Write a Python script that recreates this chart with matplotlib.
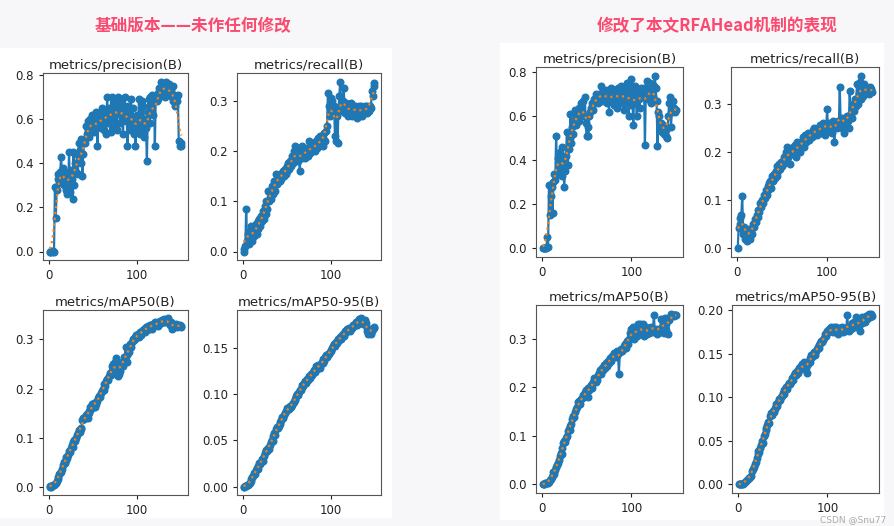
import matplotlib
matplotlib.use("Agg")
import matplotlib.pyplot as plt
from matplotlib.ticker import MaxNLocator
import numpy as np

# epochs
epochs = np.arange(1, 151)

# base version (left block)
base_precision = [
    0.0, 0.0, 0.001, 0.0, 0.003, 0.0, 0.29, 0.15, 0.28, 0.33,
    0.35, 0.31, 0.36, 0.43, 0.34, 0.38, 0.30, 0.36, 0.28, 0.33,
    0.26, 0.29, 0.45, 0.27, 0.37, 0.33, 0.24, 0.45, 0.30, 0.40,
    0.36, 0.44, 0.35, 0.49, 0.46, 0.40, 0.51, 0.34, 0.44, 0.50,
    0.49, 0.57, 0.53, 0.59, 0.52, 0.56, 0.60, 0.55, 0.62, 0.57,
    0.54, 0.61, 0.58, 0.63, 0.48, 0.60, 0.57, 0.62, 0.56, 0.65,
    0.61, 0.55, 0.64, 0.60, 0.53, 0.70, 0.58, 0.65, 0.62, 0.54,
    0.70, 0.60, 0.66, 0.57, 0.62, 0.68, 0.55, 0.70, 0.63, 0.67,
    0.58, 0.69, 0.60, 0.53, 0.66, 0.70, 0.59, 0.64, 0.48, 0.66,
    0.62, 0.55, 0.69, 0.58, 0.65, 0.53, 0.60, 0.48, 0.57, 0.62,
    0.55, 0.69, 0.53, 0.58, 0.68, 0.55, 0.66, 0.52, 0.60, 0.56,
    0.41, 0.63, 0.69, 0.58, 0.70, 0.65, 0.71, 0.62, 0.69, 0.48,
    0.70, 0.68, 0.72, 0.69, 0.74, 0.71, 0.77, 0.73, 0.76, 0.72,
    0.75, 0.70, 0.77, 0.74, 0.72, 0.76, 0.71, 0.73, 0.70, 0.75,
    0.68, 0.71, 0.66, 0.70, 0.68, 0.71, 0.50, 0.48, 0.49, 0.48,
]
base_recall = [
    0.0, 0.004, 0.01, 0.085, 0.02, 0.035, 0.015, 0.04, 0.025, 0.05,
    0.02, 0.045, 0.03, 0.04, 0.055, 0.035, 0.06, 0.045, 0.065, 0.05,
    0.07, 0.06, 0.08, 0.065, 0.09, 0.075, 0.1, 0.085, 0.12, 0.1,
    0.12, 0.105, 0.13, 0.115, 0.125, 0.14, 0.12, 0.155, 0.135, 0.145,
    0.15, 0.14, 0.155, 0.145, 0.15, 0.16, 0.15, 0.165, 0.155, 0.17,
    0.16, 0.175, 0.165, 0.18, 0.17, 0.19, 0.175, 0.2, 0.18, 0.21,
    0.19, 0.205, 0.18, 0.2, 0.16, 0.195, 0.185, 0.21, 0.19, 0.2,
    0.185, 0.195, 0.205, 0.19, 0.22, 0.2, 0.195, 0.21, 0.2, 0.215,
    0.205, 0.2, 0.22, 0.21, 0.205, 0.225, 0.21, 0.23, 0.215, 0.22,
    0.225, 0.21, 0.235, 0.22, 0.24, 0.25, 0.315, 0.29, 0.27, 0.305,
    0.28, 0.3, 0.275, 0.29, 0.23, 0.22, 0.27, 0.215, 0.28, 0.31,
    0.338, 0.29, 0.28, 0.3, 0.325, 0.285, 0.275, 0.295, 0.28, 0.27,
    0.29, 0.28, 0.295, 0.27, 0.285, 0.29, 0.275, 0.29, 0.28, 0.265,
    0.285, 0.29, 0.275, 0.28, 0.29, 0.27, 0.285, 0.275, 0.29, 0.28,
    0.275, 0.29, 0.285, 0.28, 0.29, 0.285, 0.32, 0.31, 0.33, 0.335,
]
base_map50 = [
    0.0, 0.001, 0.0, 0.002, 0.003, 0.004, 0.006, 0.008, 0.012, 0.015,
    0.02, 0.025, 0.028, 0.03, 0.036, 0.045, 0.05, 0.048, 0.055, 0.06,
    0.058, 0.065, 0.072, 0.07, 0.078, 0.085, 0.08, 0.09, 0.095, 0.092,
    0.1, 0.105, 0.11, 0.115, 0.112, 0.12, 0.118, 0.135, 0.14, 0.138,
    0.142, 0.145, 0.148, 0.14, 0.15, 0.155, 0.162, 0.158, 0.168, 0.165,
    0.17, 0.162, 0.172, 0.168, 0.175, 0.18, 0.185, 0.182, 0.19, 0.195,
    0.2, 0.198, 0.21, 0.205, 0.215, 0.22, 0.218, 0.225, 0.232, 0.228,
    0.245, 0.235, 0.25, 0.24, 0.255, 0.262, 0.238, 0.225, 0.245, 0.23,
    0.235, 0.25, 0.255, 0.245, 0.265, 0.26, 0.285, 0.255, 0.268, 0.28,
    0.275, 0.29, 0.285, 0.295, 0.3, 0.298, 0.305, 0.302, 0.31, 0.308,
    0.312, 0.305, 0.315, 0.31, 0.318, 0.315, 0.32, 0.322, 0.316, 0.325,
    0.32, 0.328, 0.322, 0.33, 0.325, 0.33, 0.322, 0.332, 0.328, 0.335,
    0.33, 0.334, 0.328, 0.336, 0.332, 0.338, 0.334, 0.34, 0.336, 0.342,
    0.338, 0.335, 0.34, 0.336, 0.343, 0.338, 0.33, 0.335, 0.322, 0.326,
    0.33, 0.325, 0.328, 0.332, 0.326, 0.33, 0.327, 0.329, 0.326, 0.328,
]
base_map5095 = [
    0.0, 0.0, 0.001, 0.001, 0.002, 0.002, 0.003, 0.004, 0.006, 0.008,
    0.01, 0.012, 0.015, 0.014, 0.018, 0.02, 0.019, 0.022, 0.025, 0.024,
    0.027, 0.03, 0.028, 0.033, 0.036, 0.038, 0.04, 0.039, 0.042, 0.041,
    0.045, 0.048, 0.05, 0.049, 0.055, 0.058, 0.056, 0.062, 0.065, 0.063,
    0.066, 0.07, 0.068, 0.072, 0.075, 0.074, 0.078, 0.08, 0.082, 0.085,
    0.083, 0.085, 0.084, 0.087, 0.086, 0.088, 0.09, 0.092, 0.095, 0.094,
    0.098, 0.1, 0.099, 0.102, 0.105, 0.104, 0.108, 0.11, 0.109, 0.112,
    0.114, 0.112, 0.116, 0.115, 0.118, 0.12, 0.118, 0.122, 0.121, 0.124,
    0.126, 0.124, 0.128, 0.13, 0.127, 0.132, 0.13, 0.128, 0.133, 0.135,
    0.134, 0.138, 0.136, 0.14, 0.142, 0.14, 0.144, 0.143, 0.146, 0.148,
    0.147, 0.15, 0.152, 0.154, 0.152, 0.156, 0.155, 0.158, 0.16, 0.159,
    0.162, 0.16, 0.164, 0.165, 0.163, 0.166, 0.168, 0.167, 0.17, 0.169,
    0.172, 0.168, 0.171, 0.173, 0.172, 0.175, 0.174, 0.176, 0.178, 0.175,
    0.179, 0.181, 0.178, 0.18, 0.182, 0.179, 0.176, 0.178, 0.18, 0.177,
    0.172, 0.168, 0.165, 0.17, 0.167, 0.165, 0.168, 0.17, 0.172, 0.173,
]

# RFAHead version (right block)
rfa_precision = [
    0.0, 0.001, 0.0, 0.002, 0.003, 0.05, 0.005, 0.29, 0.15, 0.24,
    0.28, 0.16, 0.3, 0.34, 0.31, 0.51, 0.34, 0.41, 0.36, 0.44,
    0.38, 0.46, 0.33, 0.4, 0.28, 0.35, 0.42, 0.53, 0.38, 0.45,
    0.5, 0.61, 0.48, 0.55, 0.52, 0.58, 0.63, 0.56, 0.6, 0.62,
    0.58, 0.64, 0.6, 0.66, 0.62, 0.67, 0.6, 0.69, 0.57, 0.51,
    0.55, 0.51, 0.6, 0.62, 0.64, 0.66, 0.63, 0.68, 0.66, 0.7,
    0.67, 0.69, 0.66, 0.7, 0.68, 0.74, 0.67, 0.7, 0.68, 0.71,
    0.69, 0.72, 0.66, 0.7, 0.62, 0.71, 0.73, 0.67, 0.72, 0.65,
    0.7, 0.68, 0.72, 0.64, 0.73, 0.69, 0.66, 0.74, 0.7, 0.68,
    0.72, 0.63, 0.7, 0.66, 0.75, 0.69, 0.6, 0.72, 0.65, 0.77,
    0.68, 0.56, 0.7, 0.74, 0.66, 0.6, 0.72, 0.68, 0.64, 0.7,
    0.73, 0.69, 0.7, 0.73, 0.47, 0.71, 0.76, 0.68, 0.72, 0.7,
    0.75, 0.66, 0.72, 0.69, 0.74, 0.785, 0.73, 0.67, 0.465, 0.62,
    0.6, 0.55, 0.57, 0.53, 0.56, 0.52, 0.55, 0.51, 0.54, 0.5,
    0.6, 0.66, 0.69, 0.55, 0.62, 0.67, 0.64, 0.63, 0.62, 0.63,
]
rfa_recall = [
    0.0, 0.042, 0.063, 0.05, 0.07, 0.109, 0.03, 0.045, 0.02, 0.035,
    0.015, 0.03, 0.025, 0.04, 0.02, 0.035, 0.03, 0.05, 0.045, 0.06,
    0.055, 0.07, 0.065, 0.08, 0.075, 0.095, 0.085, 0.1, 0.095, 0.11,
    0.105, 0.12, 0.11, 0.13, 0.12, 0.135, 0.14, 0.125, 0.15, 0.14,
    0.155, 0.145, 0.16, 0.15, 0.17, 0.16, 0.175, 0.165, 0.18, 0.17,
    0.175, 0.19, 0.18, 0.2, 0.185, 0.21, 0.19, 0.2, 0.175, 0.205,
    0.195, 0.21, 0.2, 0.215, 0.19, 0.205, 0.22, 0.21, 0.215, 0.2,
    0.22, 0.215, 0.23, 0.21, 0.225, 0.235, 0.22, 0.23, 0.24, 0.225,
    0.235, 0.24, 0.23, 0.245, 0.235, 0.25, 0.24, 0.245, 0.235, 0.25,
    0.245, 0.255, 0.24, 0.25, 0.26, 0.245, 0.255, 0.235, 0.25, 0.288,
    0.245, 0.26, 0.25, 0.255, 0.24, 0.265, 0.25, 0.22, 0.255, 0.26,
    0.25, 0.265, 0.255, 0.335, 0.26, 0.27, 0.25, 0.265, 0.24, 0.27,
    0.26, 0.275, 0.265, 0.25, 0.326, 0.28, 0.27, 0.29, 0.3, 0.285,
    0.31, 0.295, 0.34, 0.3, 0.32, 0.345, 0.31, 0.358, 0.33, 0.315,
    0.34, 0.32, 0.335, 0.325, 0.33, 0.32, 0.335, 0.328, 0.33, 0.325,
]
rfa_map50 = [
    0.0, 0.0, 0.001, 0.002, 0.002, 0.003, 0.004, 0.006, 0.01, 0.012,
    0.015, 0.02, 0.025, 0.022, 0.03, 0.035, 0.04, 0.045, 0.05, 0.058,
    0.065, 0.062, 0.075, 0.085, 0.09, 0.088, 0.095, 0.1, 0.11, 0.115,
    0.112, 0.12, 0.125, 0.135, 0.14, 0.138, 0.15, 0.155, 0.16, 0.17,
    0.165, 0.172, 0.165, 0.175, 0.178, 0.185, 0.18, 0.19, 0.195, 0.19,
    0.198, 0.18, 0.195, 0.2, 0.205, 0.198, 0.21, 0.22, 0.215, 0.21,
    0.22, 0.215, 0.225, 0.23, 0.235, 0.228, 0.24, 0.235, 0.245, 0.24,
    0.245, 0.25, 0.243, 0.255, 0.25, 0.26, 0.255, 0.265, 0.262, 0.27,
    0.265, 0.27, 0.262, 0.275, 0.268, 0.228, 0.272, 0.278, 0.275, 0.28,
    0.28, 0.285, 0.29, 0.282, 0.295, 0.29, 0.3, 0.312, 0.305, 0.32,
    0.31, 0.325, 0.3, 0.315, 0.31, 0.305, 0.33, 0.32, 0.315, 0.33,
    0.312, 0.32, 0.33, 0.305, 0.318, 0.325, 0.31, 0.315, 0.32, 0.312,
    0.318, 0.325, 0.315, 0.32, 0.349, 0.315, 0.32, 0.31, 0.318, 0.312,
    0.32, 0.315, 0.34, 0.325, 0.335, 0.312, 0.342, 0.33, 0.318, 0.34,
    0.31, 0.338, 0.345, 0.352, 0.348, 0.35, 0.346, 0.35, 0.348, 0.349,
]
rfa_map5095 = [
    0.0, 0.0, 0.0, 0.001, 0.001, 0.001, 0.002, 0.003, 0.004, 0.005,
    0.006, 0.007, 0.007, 0.009, 0.01, 0.016, 0.018, 0.02, 0.024, 0.026,
    0.03, 0.035, 0.038, 0.037, 0.042, 0.045, 0.05, 0.048, 0.055, 0.058,
    0.062, 0.065, 0.068, 0.072, 0.07, 0.078, 0.082, 0.08, 0.084, 0.083,
    0.086, 0.088, 0.092, 0.09, 0.095, 0.098, 0.097, 0.1, 0.102, 0.105,
    0.104, 0.108, 0.11, 0.112, 0.11, 0.114, 0.116, 0.115, 0.118, 0.12,
    0.122, 0.12, 0.125, 0.128, 0.126, 0.13, 0.128, 0.133, 0.135, 0.132,
    0.136, 0.138, 0.134, 0.14, 0.137, 0.133, 0.128, 0.138, 0.142, 0.14,
    0.145, 0.148, 0.146, 0.15, 0.152, 0.149, 0.153, 0.155, 0.158, 0.156,
    0.16, 0.162, 0.165, 0.163, 0.166, 0.168, 0.172, 0.17, 0.174, 0.176,
    0.175, 0.178, 0.176, 0.18, 0.178, 0.175, 0.18, 0.178, 0.181, 0.176,
    0.178, 0.172, 0.176, 0.179, 0.177, 0.18, 0.175, 0.178, 0.176, 0.179,
    0.178, 0.194, 0.18, 0.176, 0.182, 0.178, 0.185, 0.18, 0.184, 0.186,
    0.18, 0.192, 0.185, 0.188, 0.182, 0.176, 0.19, 0.185, 0.192, 0.188,
    0.19, 0.186, 0.193, 0.19, 0.194, 0.195, 0.192, 0.196, 0.194, 0.193,
]

titles = ["metrics/precision(B)", "metrics/recall(B)",
          "metrics/mAP50(B)", "metrics/mAP50-95(B)"]
base_series = [base_precision, base_recall, base_map50, base_map5095]
rfa_series = [rfa_precision, rfa_recall, rfa_map50, rfa_map5095]


def smooth(y, sigma=3):
    # gaussian smoothing like ultralytics plot_results
    r = int(4 * sigma + 0.5)
    k = np.exp(-0.5 * (np.arange(-r, r + 1) / sigma) ** 2)
    k /= k.sum()
    yp = np.pad(np.asarray(y, float), r, mode="symmetric")
    return np.convolve(yp, k, mode="valid")


W, H = 894, 526
fig = plt.figure(figsize=(W / 100, H / 100), dpi=100, facecolor="#f7f7f9")


def px_rect(x0, y0, x1, y1):
    return [x0 / W, 1 - y1 / H, (x1 - x0) / W, (y1 - y0) / H]


# white panels behind each block
for (x0, y0, x1, y1) in [(0, 48, 392, 518), (500, 43, 884, 520)]:
    l, b, w, h = px_rect(x0, y0, x1, y1)
    fig.patches.append(plt.Rectangle((l, b), w, h, transform=fig.transFigure,
                                     facecolor="white", edgecolor="none", zorder=-5))

base_boxes = [(43, 73, 188, 260), (237, 73, 381, 260),
              (43, 310, 188, 495), (237, 310, 381, 495)]
rfa_boxes = [(536, 67, 683, 257), (731, 67, 879, 257),
             (536, 305, 683, 493), (732, 305, 879, 493)]

for boxes, series in [(base_boxes, base_series), (rfa_boxes, rfa_series)]:
    for box, y, title in zip(boxes, series, titles):
        ax = fig.add_axes(px_rect(*box))
        ax.plot(epochs, y, marker=".", linewidth=1.6, markersize=9.5, color="C0")
        ax.plot(epochs, smooth(y), ":", linewidth=1.6, color="C1")
        ax.set_title(title, fontsize=9.5, pad=3, color="#222222")
        ax.set_xticks([0, 100])
        ax.yaxis.set_major_locator(MaxNLocator(nbins=5, steps=[1, 2, 5, 10]))
        ax.tick_params(labelsize=8.5, colors="#222222", length=3)
        for s in ax.spines.values():
            s.set_color("#555555")

pink = "#fb4a6f"
fig.text(193 / W, 1 - 26 / H, "基础版本——未作任何修改", ha="center", va="center",
         fontsize=12, fontweight="bold", color=pink,
         family=["Noto Sans CJK SC", "DejaVu Sans"])
fig.text(717 / W, 1 - 26 / H, "修改了本文RFAHead机制的表现", ha="center", va="center",
         fontsize=12, fontweight="bold", color=pink,
         family=["Noto Sans CJK SC", "DejaVu Sans"])
fig.text(886 / W, 1 - 520 / H, "CSDN @Snu77", ha="right", va="center",
         fontsize=6.5, color="#aaaaaa")

fig.savefig("out.png", dpi=100, facecolor=fig.get_facecolor())
